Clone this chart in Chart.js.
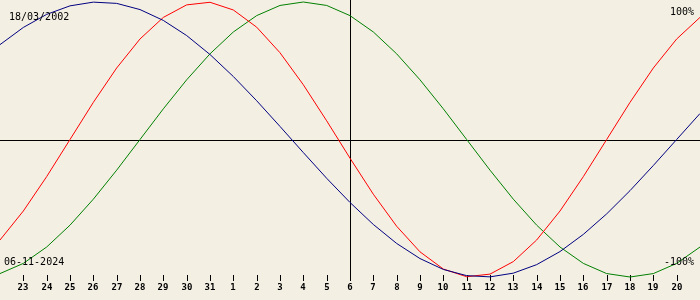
<!DOCTYPE html>
<html>
<head>
<meta charset="utf-8">
<script src="https://cdn.jsdelivr.net/npm/chart.js@4"></script>
<style>
  body { margin: 0; background: #F3EFE3; }
  canvas { display: block; background: #F3EFE3; }
</style>
</head>
<body>
<canvas id="bio" width="700" height="300"></canvas>
<script>
// days from 22 Oct to 21 Nov, centre is 6 Nov
const days = ['22', '23', '24', '25', '26', '27', '28', '29', '30', '31',
    '1', '2', '3', '4', '5', '6', '7', '8', '9', '10',
    '11', '12', '13', '14', '15', '16', '17', '18', '19', '20', '21'];
const centerIndex = 15;

const physical = [-73.1, -52.0, -27.0, 0, 27.0, 52.0, 73.1, 88.8, 97.9, 99.8, 94.2, 81.7, 63.1, 39.8, 13.6,
    -13.6, -39.8, -63.1, -81.7, -94.2, -99.8, -97.9, -88.8, -73.1, -52.0, -27.0, 0, 27.0, 52.0, 73.1, 88.8];
const emotional = [-97.5, -90.1, -78.2, -62.3, -43.4, -22.3, 0, 22.3, 43.4, 62.3, 78.2, 90.1, 97.5, 100, 97.5,
    90.1, 78.2, 62.3, 43.4, 22.3, 0, -22.3, -43.4, -62.3, -78.2, -90.1, -97.5, -100, -97.5, -90.1, -78.2];
const intellectual = [69.0, 81.5, 91.0, 97.2, 99.9, 99.0, 94.5, 86.6, 75.6, 61.8, 45.8, 28.2, 9.5, -9.5, -28.2,
    -45.8, -61.8, -75.6, -86.6, -94.5, -99.0, -99.9, -97.2, -91.0, -81.5, -69.0, -54.1, -37.2, -18.9, 0, 18.9];

const birthDate = '18/03/2002';
const viewDate = '06-11-2024';

const overlay = {
    id: 'overlay',
    beforeDatasetsDraw(chart) {
        const ctx = chart.ctx;
        const xs = chart.scales.x, ys = chart.scales.y;
        ctx.save();
        ctx.strokeStyle = '#000';
        ctx.lineWidth = 1;
        ctx.beginPath();
        const y0 = Math.round(ys.getPixelForValue(0)) + 0.5;
        ctx.moveTo(0, y0);
        ctx.lineTo(700, y0);
        const xc = Math.round(xs.getPixelForValue(centerIndex)) + 0.5;
        ctx.moveTo(xc, 0);
        ctx.lineTo(xc, 281);
        for (let i = 1; i < days.length - 1; i++) {
            const px = Math.round(xs.getPixelForValue(i)) + 0.5;
            ctx.moveTo(px, 275);
            ctx.lineTo(px, 281);
        }
        ctx.stroke();

        ctx.fillStyle = '#000';
        ctx.font = 'bold 9px "DejaVu Sans Mono"';
        ctx.textAlign = 'center';
        ctx.textBaseline = 'middle';
        for (let i = 1; i < days.length - 1; i++) {
            ctx.fillText(days[i], Math.round(xs.getPixelForValue(i)), 288);
        }
        ctx.restore();
    },
    afterDatasetsDraw(chart) {
        const ctx = chart.ctx;
        ctx.save();
        ctx.fillStyle = '#000';
        ctx.font = '10px "DejaVu Sans Mono"';
        ctx.textBaseline = 'middle';
        ctx.textAlign = 'left';
        ctx.fillText(birthDate, 9, 17);
        ctx.fillText(viewDate, 4, 262);
        ctx.textAlign = 'right';
        ctx.fillText('100%', 694, 12);
        ctx.fillText('-100%', 694, 262);
        ctx.restore();
    }
};

new Chart(document.getElementById('bio'), {
    type: 'line',
    data: {
        labels: days,
        datasets: [
            { label: 'Intellectual', data: intellectual, borderColor: '#000080' },
            { label: 'Physical', data: physical, borderColor: '#FF0000' },
            { label: 'Emotional', data: emotional, borderColor: '#008000' }
        ]
    },
    options: {
        responsive: false,
        animation: false,
        devicePixelRatio: 1,
        layout: { padding: { top: 2, bottom: 23, left: 0, right: 0 } },
        elements: {
            line: { borderWidth: 1, tension: 0, fill: false },
            point: { radius: 0, hoverRadius: 0 }
        },
        datasets: { line: { clip: false } },
        plugins: { legend: { display: false }, tooltip: { enabled: false } },
        scales: {
            x: { display: false, offset: false },
            y: { display: false, min: -100, max: 100 }
        }
    },
    plugins: [overlay]
});
</script>
</body>
</html>
